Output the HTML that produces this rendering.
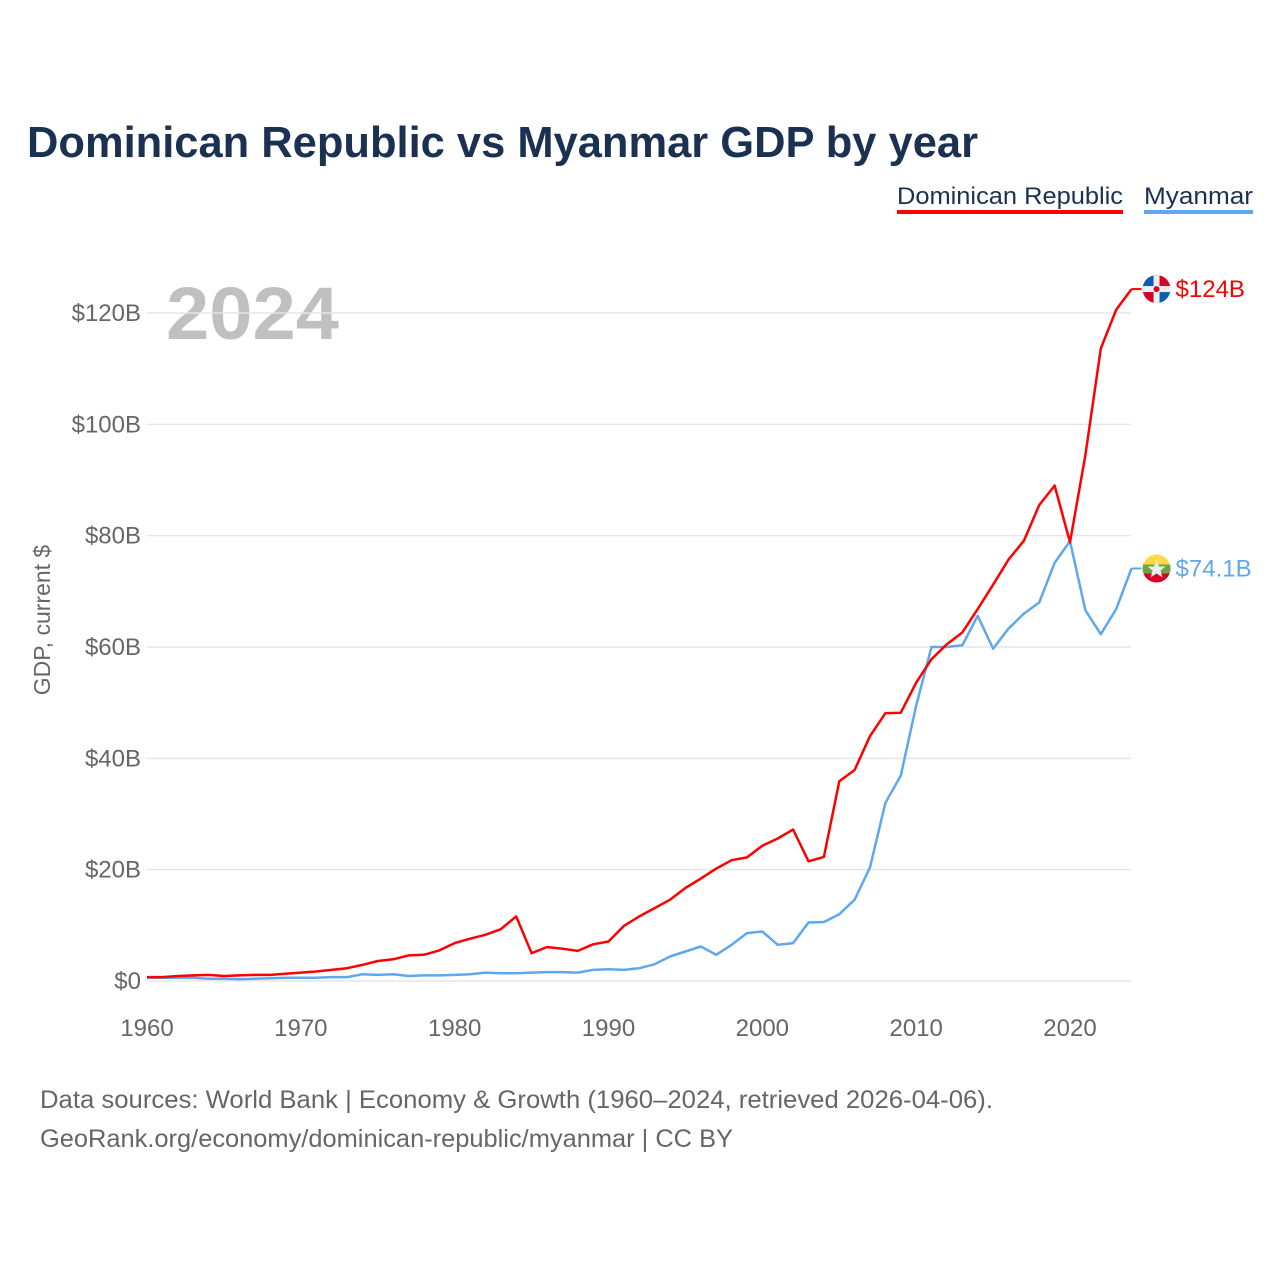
<!DOCTYPE html>
<html><head><meta charset="utf-8"><style>
body{margin:0;background:#fff;font-family:"Liberation Sans",sans-serif;}
#wrap{position:relative;width:1280px;height:1280px;overflow:hidden}
</style></head><body>
<div id="wrap">
<svg id="svg" width="1280" height="1280">
<text x="27" y="157" font-size="44" font-weight="bold" fill="#1b3152" textLength="951" lengthAdjust="spacingAndGlyphs">Dominican Republic vs Myanmar GDP by year</text>
<g>
<text x="897" y="204" font-size="24" fill="#1b3152" textLength="226" lengthAdjust="spacingAndGlyphs">Dominican Republic</text>
<rect x="897" y="210" width="226" height="4" fill="#ff0000"/>
<text x="1144" y="204" font-size="24" fill="#1b3152" textLength="109" lengthAdjust="spacingAndGlyphs">Myanmar</text>
<rect x="1144" y="210" width="109" height="4" fill="#5fa8ec"/>
</g>
<text x="166" y="339" font-size="74" font-weight="bold" fill="#c0c0c0" textLength="173" lengthAdjust="spacingAndGlyphs">2024</text>
<text transform="translate(50,620) rotate(-90)" text-anchor="middle" font-size="23" fill="#666">GDP, current $</text>
<g id="grid"></g><g id="lines"></g><g id="labels"></g>
<text x="40" y="1108" font-size="25" fill="#666" textLength="953" lengthAdjust="spacingAndGlyphs">Data sources: World Bank | Economy &amp; Growth (1960–2024, retrieved 2026-04-06).</text>
<text x="40" y="1147" font-size="25" fill="#666" textLength="693" lengthAdjust="spacingAndGlyphs">GeoRank.org/economy/dominican-republic/myanmar | CC BY</text>
</svg>
</div>
<script>
const years=[];for(let y=1960;y<=2024;y++)years.push(y);
const yTicks=[0,20,40,60,80,100,120];
const yTickLabels=["$0","$20B","$40B","$60B","$80B","$100B","$120B"];
const xTicks=[1960,1970,1980,1990,2000,2010,2020];
const domRep=[0.7,0.7,0.9,1.0,1.1,0.9,1.0,1.1,1.1,1.3,1.5,1.7,2.0,2.3,2.9,3.6,3.9,4.6,4.7,5.5,6.8,7.6,8.3,9.3,11.6,5.0,6.1,5.8,5.4,6.6,7.1,9.9,11.6,13.1,14.6,16.7,18.4,20.2,21.7,22.2,24.3,25.6,27.2,21.5,22.3,35.9,37.9,44.0,48.1,48.2,53.6,57.8,60.5,62.6,66.8,71.2,75.7,79.1,85.5,89.0,78.8,94.5,113.6,120.6,124.3];
const myanmar=[0.6,0.6,0.6,0.6,0.4,0.4,0.3,0.4,0.5,0.6,0.6,0.6,0.7,0.7,1.2,1.1,1.2,0.9,1.0,1.0,1.1,1.2,1.5,1.4,1.4,1.5,1.6,1.6,1.5,2.0,2.1,2.0,2.3,3.0,4.4,5.3,6.2,4.7,6.5,8.6,8.9,6.5,6.8,10.5,10.6,12.0,14.6,20.4,32.0,36.9,49.5,60.0,60.0,60.3,65.6,59.7,63.3,66.0,68.0,75.1,79.0,66.6,62.3,66.8,74.1];
const NS="http://www.w3.org/2000/svg";
const X=y=>147+(y-1960)*(1070-147)/60;
const Y=v=>981-v*(981-313)/120;
function mk(tag,attrs,parent){const e=document.createElementNS(NS,tag);for(const k in attrs)e.setAttribute(k,attrs[k]);parent.appendChild(e);return e;}
const grid=document.getElementById('grid'),lines=document.getElementById('lines'),labels=document.getElementById('labels');
yTicks.forEach((t,i)=>{
 const l=mk('line',{x1:147,x2:1131,y1:Y(t),y2:Y(t),stroke:'#e6e6e6','stroke-width':1.5},grid);
 
 
 const tx=mk('text',{x:141,y:Y(t)+8,'text-anchor':'end','font-size':24,fill:'#666'},grid);
 tx.textContent=yTickLabels[i];
 
 
});
xTicks.forEach(t=>{
 const tx=mk('text',{x:X(t),y:1036,'text-anchor':'middle','font-size':24,fill:'#666'},grid);
 tx.textContent=t;
 
 
});
function series(data,color,name){
 const d=data.map((v,i)=>(i?'L':'M')+X(years[i]).toFixed(1)+','+Y(v).toFixed(1)).join('');
 const p=mk('path',{d:d,fill:'none',stroke:color,'stroke-width':2.5,'stroke-linejoin':'round'},lines);
 
 
}
series(myanmar,'#5fa8ec','myanmar');
series(domRep,'#ff0000','dominican-republic');
function endLabel(data,color,name,txt,flag){
 const v=data[data.length-1],y=Y(v),x=X(2024);
 const l=mk('line',{x1:x,x2:x+10,y1:y,y2:y,stroke:color,'stroke-width':2},labels);
 
 
 const g=mk('g',{},labels);
 
 
 const cx=x+25;
 const cp=mk('clipPath',{id:'c'+name},g);mk('circle',{cx:cx,cy:y,r:14},cp);
 const gg=mk('g',{'clip-path':'url(#c'+name+')'},g);
 if(flag==='do'){
  mk('rect',{x:cx-14,y:y-14,width:14,height:14,fill:'#0d5eaf'},gg);
  mk('rect',{x:cx,y:y-14,width:14,height:14,fill:'#d80027'},gg);
  mk('rect',{x:cx-14,y:y,width:14,height:14,fill:'#d80027'},gg);
  mk('rect',{x:cx,y:y,width:14,height:14,fill:'#0d5eaf'},gg);
  mk('rect',{x:cx-3,y:y-14,width:6,height:28,fill:'#eee'},gg);
  mk('rect',{x:cx-14,y:y-3,width:28,height:6,fill:'#eee'},gg);
  mk('circle',{cx:cx,cy:y,r:3,fill:'#d80027'},gg);
 }else{
  mk('rect',{x:cx-14,y:y-14,width:28,height:10,fill:'#ffda44'},gg);
  mk('rect',{x:cx-14,y:y-4,width:28,height:9,fill:'#6da544'},gg);
  mk('rect',{x:cx-14,y:y+5,width:28,height:10,fill:'#d80027'},gg);
  mk('polygon',{points:`${cx},${y-9} ${cx+2.5},${y-2} ${cx+9},${y-2} ${cx+4},${y+2} ${cx+6},${y+9} ${cx},${y+5} ${cx-6},${y+9} ${cx-4},${y+2} ${cx-9},${y-2} ${cx-2.5},${y-2}`,fill:'#eee'},gg);
 }
 const t=mk('text',{x:x+44,y:y+8,'font-size':24,fill:color},labels);
 t.textContent=txt;
 
 
}
endLabel(domRep,'#ff0000','dominican-republic','$124B','do');
endLabel(myanmar,'#5fa8ec','myanmar','$74.1B','mm');
</script>
</body></html>
